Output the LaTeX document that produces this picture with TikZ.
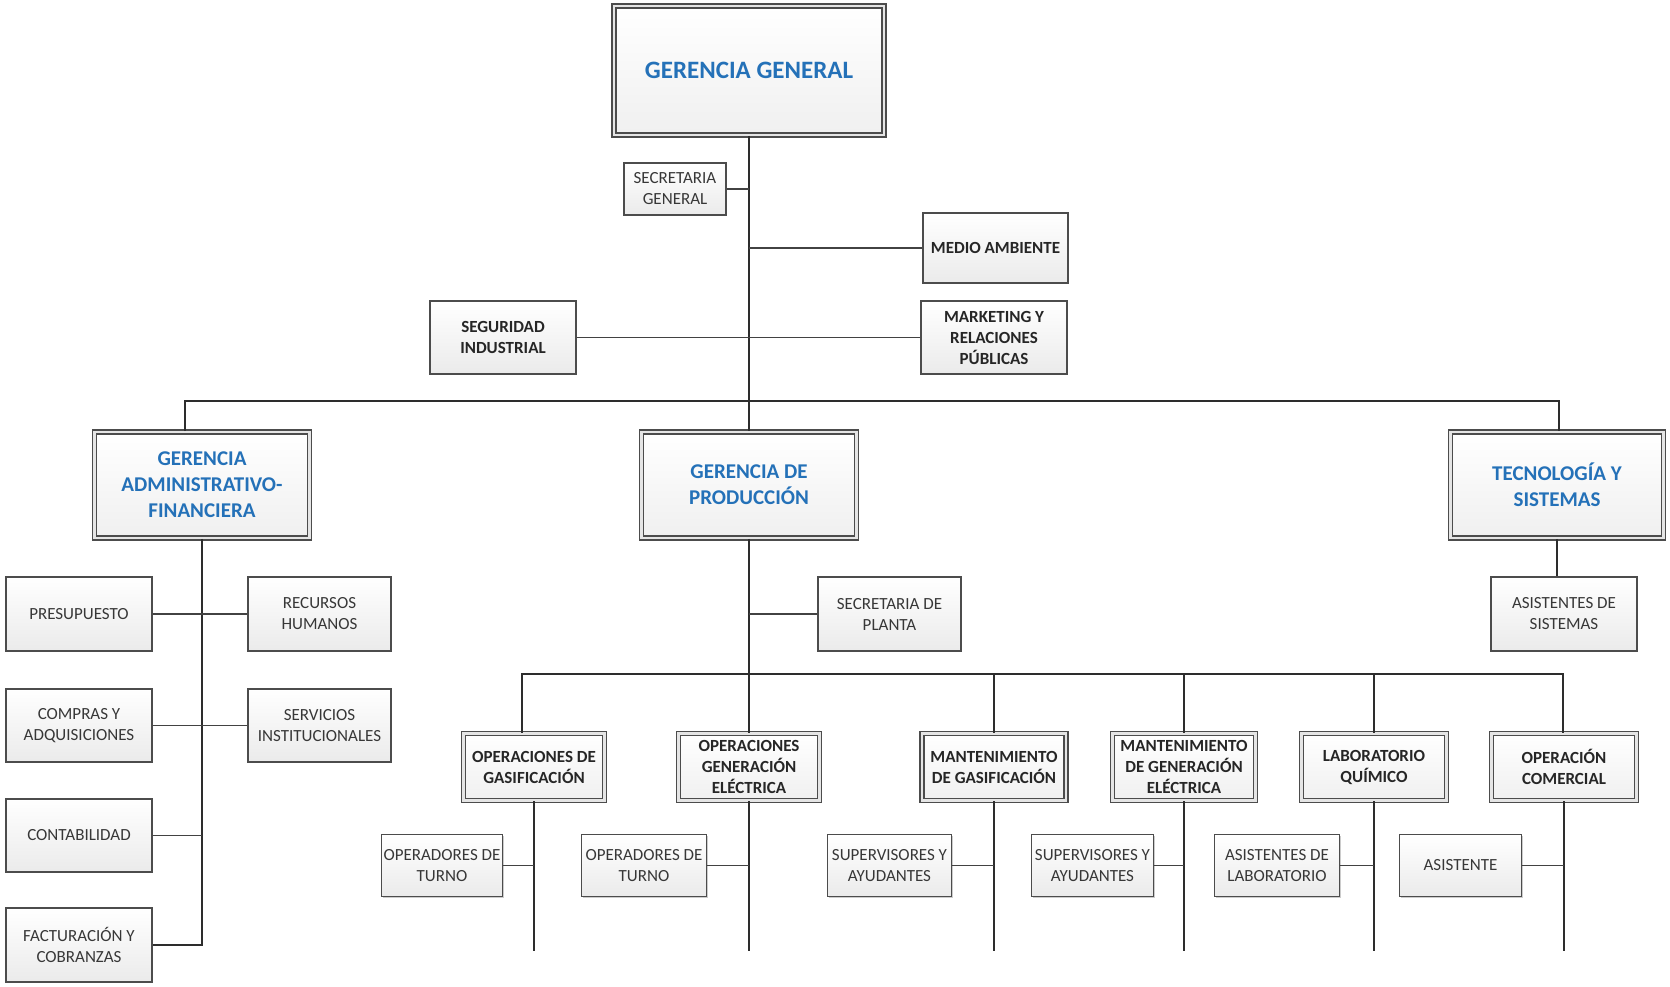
\documentclass[tikz,border=0pt]{standalone}
\usepackage{fontspec}
\setmainfont{Carlito}
\usetikzlibrary{shadows}
\definecolor{blueT}{RGB}{36,113,184}
\definecolor{lineC}{RGB}{45,45,45}
\definecolor{txtC}{RGB}{55,55,55}
\begin{document}
\begin{tikzpicture}[x=1pt,y=-1pt,
  box/.style={draw=lineC!85, line width=1.2pt, top color=white, bottom color=gray!16,
    align=center, inner sep=0pt, text=txtC, font=\fontsize{17}{21}\selectfont,
    general shadow={shadow xshift=1.3pt, shadow yshift=-1.3pt, fill=gray!40}},
  bbox/.style={box, font=\fontsize{17}{21}\selectfont\bfseries, text=black!85},
  mgr/.style={draw=gray!60!black, double=gray!20, double distance=2.2pt, line width=1.6pt,
    top color=white, bottom color=gray!12, align=center, inner sep=0pt,
    general shadow={shadow xshift=1.3pt, shadow yshift=-1.3pt, fill=gray!40}},
  bluemgr/.style={mgr, text=blueT, font=\fontsize{21}{26}\selectfont\bfseries},
  lvl3/.style={mgr, text=black!85, font=\fontsize{17}{21}\selectfont\bfseries},
  conn/.style={draw=lineC, line width=2.3pt},
  thin/.style={draw=lineC!90, line width=1.7pt}]
\useasboundingbox (0,0) rectangle (1670,987);

% top
\node[mgr, text=blueT, font=\fontsize{25}{30}\selectfont\bfseries,
  minimum width=270, minimum height=129] (gg) at (749,70.5) {GERENCIA GENERAL};
\node[box, minimum width=102, minimum height=52] (secgen) at (675,189) {SECRETARIA\\GENERAL};
\node[bbox, minimum width=145, minimum height=70] (medio) at (995.5,248) {MEDIO AMBIENTE};
\node[bbox, minimum width=146, minimum height=73] (seg) at (503,337.5) {SEGURIDAD\\INDUSTRIAL};
\node[bbox, minimum width=146, minimum height=73] (mkt) at (994,337.5) {MARKETING Y\\RELACIONES\\PÚBLICAS};

% level 2
\node[bluemgr, minimum width=215, minimum height=106] (gaf) at (202,485) {GERENCIA\\ADMINISTRATIVO-\\FINANCIERA};
\node[bluemgr, minimum width=215, minimum height=106] (gp) at (749,485) {GERENCIA DE\\PRODUCCIÓN};
\node[bluemgr, minimum width=213, minimum height=106] (tys) at (1557,485) {TECNOLOGÍA Y\\SISTEMAS};

% admin
\node[box, minimum width=146, minimum height=74] (pres) at (79,614) {PRESUPUESTO};
\node[box, minimum width=143, minimum height=74] (rrhh) at (319.5,614) {RECURSOS\\HUMANOS};
\node[box, minimum width=146, minimum height=73] (comp) at (79,725.5) {COMPRAS Y\\ADQUISICIONES};
\node[box, minimum width=143, minimum height=73] (serv) at (319.5,725.5) {SERVICIOS\\INSTITUCIONALES};
\node[box, minimum width=146, minimum height=73] (cont) at (79,835.5) {CONTABILIDAD};
\node[box, minimum width=146, minimum height=74] (fact) at (79,945) {FACTURACIÓN Y\\COBRANZAS};

% tecnologia
\node[box, minimum width=146, minimum height=74] (asis) at (1564,614) {ASISTENTES DE\\SISTEMAS};

% produccion
\node[box, minimum width=143, minimum height=74] (secpl) at (889.5,614) {SECRETARIA DE\\PLANTA};

\node[lvl3, minimum width=141, minimum height=67] (og) at (534,767) {OPERACIONES DE\\GASIFICACIÓN};
\node[lvl3, minimum width=141, minimum height=67] (oge) at (749,767) {OPERACIONES\\GENERACIÓN\\ELÉCTRICA};
\node[lvl3, minimum width=144, minimum height=67] (mg) at (994,767) {MANTENIMIENTO\\DE GASIFICACIÓN};
\node[lvl3, minimum width=143, minimum height=67] (mge) at (1184,767) {MANTENIMIENTO\\DE GENERACIÓN\\ELÉCTRICA};
\node[lvl3, minimum width=145, minimum height=67] (lq) at (1374,767) {LABORATORIO\\QUÍMICO};
\node[lvl3, minimum width=145, minimum height=67] (oc) at (1564,767) {OPERACIÓN\\COMERCIAL};

\node[box, minimum width=121, minimum height=62] (ot1) at (442,865.5) {OPERADORES DE\\TURNO};
\node[box, minimum width=125, minimum height=62] (ot2) at (644,865.5) {OPERADORES DE\\TURNO};
\node[box, minimum width=124, minimum height=62] (sa1) at (889.5,865.5) {SUPERVISORES Y\\AYUDANTES};
\node[box, minimum width=122, minimum height=62] (sa2) at (1092.5,865.5) {SUPERVISORES Y\\AYUDANTES};
\node[box, minimum width=125, minimum height=62] (al) at (1277,865.5) {ASISTENTES DE\\LABORATORIO};
\node[box, minimum width=122, minimum height=62] (as) at (1460.5,865.5) {ASISTENTE};

% connectors top
\draw[conn] (gg.south) -- (gp.north);
\draw[thin] (secgen.east) -- (secgen.east -| gg.south);
\draw[thin] (medio.west) -- (medio.west -| gg.south);
\draw[thin] (seg.east) -- (mkt.west);
\coordinate (busL) at (185,401);
\coordinate (busR) at (1559,401);
\draw[conn] (gaf.north -| busL) -- (busL) -- (busR) -- (busR |- tys.north);

% admin connectors
\draw[conn] (gaf.south) -- (gaf.south |- fact.east) -- (fact.east);
\draw[thin] (pres.east) -- (rrhh.west);
\draw[thin] (comp.east) -- (serv.west);
\draw[thin] (cont.east) -- (cont.east -| gaf.south);

% tecnologia
\draw[conn] (tys.south) -- (tys.south |- asis.north);

% produccion
\draw[conn] (gp.south) -- (oge.north);
\draw[thin] (secpl.west) -- (secpl.west -| gp.south);
\coordinate (b2L) at (522,674);
\coordinate (b2R) at (1563,674);
\draw[conn] (og.north -| b2L) -- (b2L) -- (b2R) -- (b2R |- oc.north);
\draw[conn] (mg.north) -- (mg.north |- b2L);
\draw[conn] (mge.north) -- (mge.north |- b2L);
\draw[conn] (lq.north) -- (lq.north |- b2L);

\coordinate (bot) at (0,951);
\foreach \n in {og,oge,mg,mge,lq,oc}{
  \draw[conn] (\n.south) -- (\n.south |- bot);
}
\draw[thin] (ot1.east) -- (ot1.east -| og.south);
\draw[thin] (ot2.east) -- (ot2.east -| oge.south);
\draw[thin] (sa1.east) -- (sa1.east -| mg.south);
\draw[thin] (sa2.east) -- (sa2.east -| mge.south);
\draw[thin] (al.east) -- (al.east -| lq.south);
\draw[thin] (as.east) -- (as.east -| oc.south);
\end{tikzpicture}
\end{document}
